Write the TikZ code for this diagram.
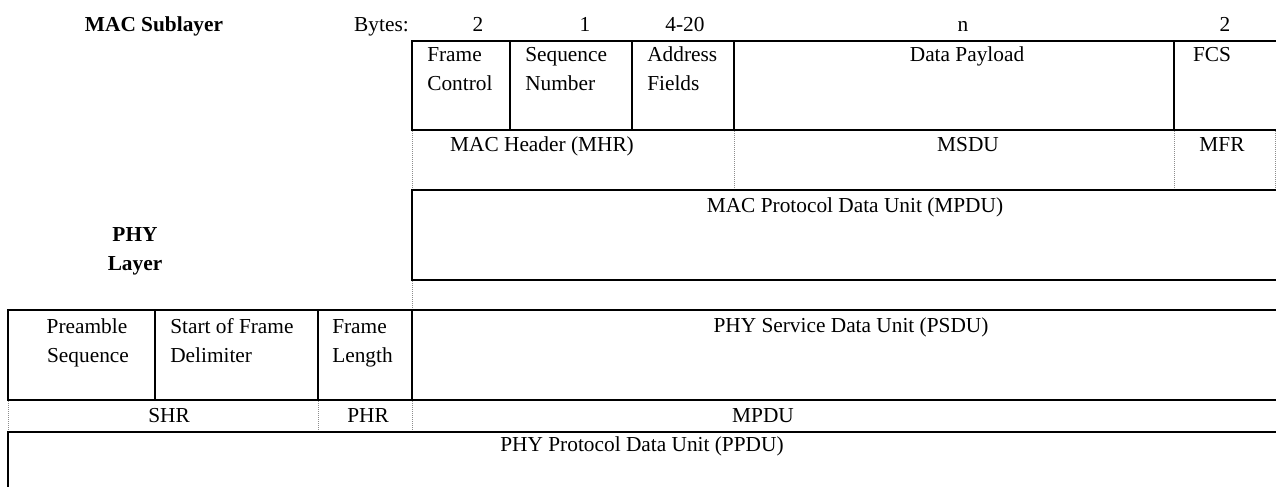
\documentclass[tikz,border=0pt]{standalone}
\usepackage{fontspec}
\setmainfont{Liberation Serif}
\begin{document}
\begin{tikzpicture}[x=0.75pt,y=-0.75pt,
  rule/.style={line width=1.5pt, black, line cap=rect},
  guide/.style={line width=0.75pt, black!45, dash pattern=on 0.75pt off 0.75pt},
  lbl/.style={inner sep=0pt, anchor=base, font=\fontsize{16}{21.75}\selectfont},
  lbll/.style={lbl, anchor=base west},
  head/.style={lbl, font=\fontsize{16}{21.75}\selectfont\bfseries}]
\useasboundingbox (0,0) rectangle (1276,486);

% ---- MAC frame fields ----
\draw[rule] (412,41) -- (1276,41);
\draw[rule] (412,130) -- (1276,130);
\foreach \x in {412,510,632,734,1174}
  \draw[rule] (\x,41) -- (\x,130);

% MHR / MSDU / MFR row (dotted separators)
\foreach \x in {412,734,1174,1275.5}
  \draw[guide] (\x,131) -- (\x,189);
\draw[rule] (412,190) -- (1276,190);

% MPDU box
\draw[rule] (412,190) -- (412,280);
\draw[rule] (412,280) -- (1276,280);
\draw[guide] (412,281) -- (412,309);

% ---- PHY frame fields ----
\draw[rule] (8,310) -- (1276,310);
\draw[rule] (8,400) -- (1276,400);
\foreach \x in {8,155,318,412}
  \draw[rule] (\x,310) -- (\x,400);

% SHR / PHR / MPDU row
\foreach \x in {8,318,412}
  \draw[guide] (\x,401) -- (\x,431);
\draw[rule] (8,432) -- (1276,432);

% PPDU row
\draw[rule] (8,432) -- (8,486);

% ---- labels ----
\node[head] (macsub) at (154,31) {MAC Sublayer};
\node[lbl, anchor=base east] (bytes) at (409,31) {Bytes:};
\node[lbl] (b1) at (478,31) {2};
\node[lbl] (b2) at (585,31) {1};
\node[lbl] (b3) at (685,31) {4-20};
\node[lbl] (b4) at (963,31) {n};
\node[lbl] (b5) at (1225,31) {2};

\node[lbll] (fc1) at (427,61) {Frame};
\node[lbll] (fc2) at (427,90) {Control};
\node[lbll] (sn1) at (525,61) {Sequence};
\node[lbll] (sn2) at (525,90) {Number};
\node[lbll] (af1) at (647,61) {Address};
\node[lbll] (af2) at (647,90) {Fields};
\node[lbl] (dp) at (967,61) {Data Payload};
\node[lbl] (fcs) at (1212,61) {FCS};

\node[lbl] (mhr) at (542,151) {MAC Header (MHR)};
\node[lbl] (msdu) at (968,151) {MSDU};
\node[lbl] (mfr) at (1222,151) {MFR};

\node[lbl] (mpdu) at (855,212) {MAC Protocol Data Unit (MPDU)};

\node[head] (phy1) at (135,241) {PHY};
\node[head] (phy2) at (135,270) {Layer};

\node[lbl] (ps1) at (87,333) {Preamble};
\node[lbl] (ps2) at (88,362) {Sequence};
\node[lbll] (sfd1) at (170,333) {Start of Frame};
\node[lbll] (sfd2) at (170,362) {Delimiter};
\node[lbll] (fl1) at (332,333) {Frame};
\node[lbll] (fl2) at (332,362) {Length};
\node[lbl] (psdu) at (851,332) {PHY Service Data Unit (PSDU)};

\node[lbl] (shr) at (169,422) {SHR};
\node[lbl] (phr) at (368,422) {PHR};
\node[lbl] (mpdu2) at (763,422) {MPDU};

\node[lbl] (ppdu) at (642,451) {PHY Protocol Data Unit (PPDU)};
\end{tikzpicture}
\end{document}
